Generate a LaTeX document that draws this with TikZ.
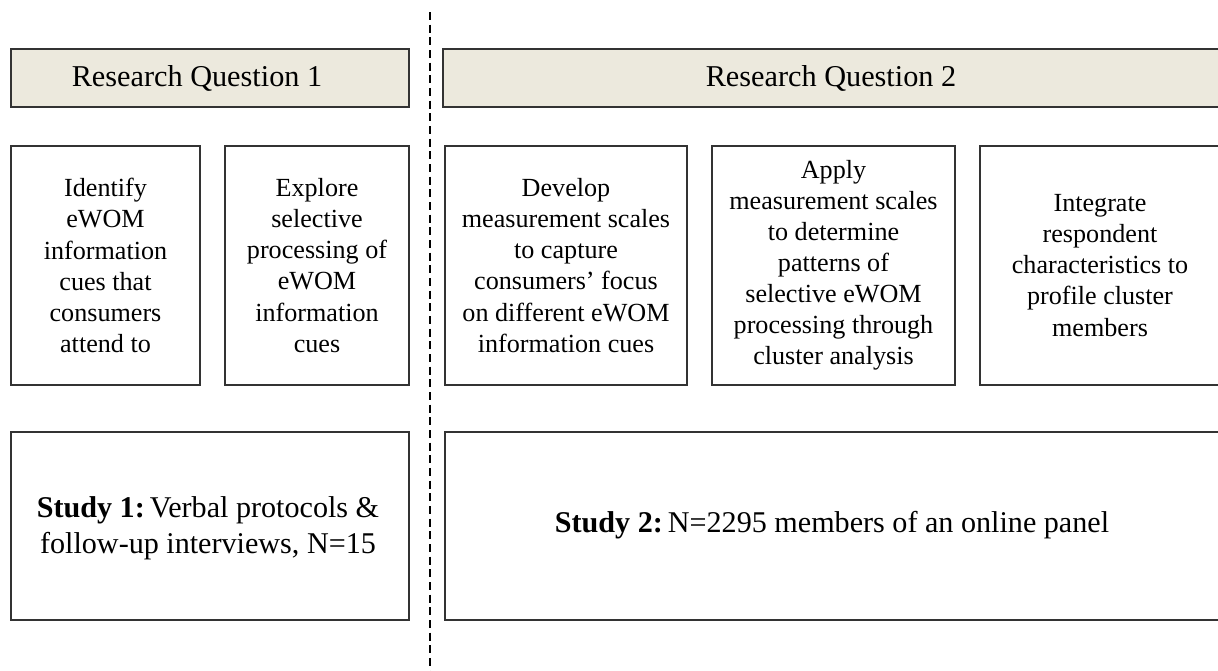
\documentclass[tikz,border=0pt]{standalone}
\usepackage{fontspec}
\setmainfont{Liberation Serif}
\definecolor{hdrfill}{HTML}{ECE9DD}
\definecolor{edge}{HTML}{333333}
\tikzset{
  hdr/.style={draw=edge, line width=1.1pt, fill=hdrfill},
  plainbox/.style={draw=edge, line width=1.1pt, fill=white},
  hdrtxt/.style={align=center, inner sep=0pt, font=\fontsize{22.7}{26}\selectfont},
  txt/.style={align=center, inner sep=0pt, font=\fontsize{19.6}{23.3}\selectfont},
  bigtxt/.style={align=center, inner sep=0pt, font=\fontsize{22.6}{27}\selectfont},
  divider/.style={draw=black, line width=1.2pt, dash pattern=on 6pt off 3.5pt}
}
\begin{document}
\begin{tikzpicture}[x=0.75pt,y=-0.75pt]
\useasboundingbox (0,0) rectangle (1218,671);
\clip (0,0) rectangle (1218,671);
\fill[white] (0,0) rectangle (1218,671);
% headers
\draw[hdr] (11,49) rectangle (409,107);
\node[hdrtxt] (rq1) at (197,78) {Research Question 1};
\draw[hdr] (443,49) rectangle (1219.5,107);
\node[hdrtxt] (rq2) at (831,78) {Research Question 2};
% row 2
\draw[plainbox] (11,146) rectangle (200,385);
\node[txt] (b1) at (105.5,265.5) {Identify\\eWOM\\information\\cues that\\consumers\\attend to};
\draw[plainbox] (225,146) rectangle (409,385);
\node[txt] (b2) at (317,265.5) {Explore\\selective\\processing of\\eWOM\\information\\cues};
\draw[plainbox] (445,146) rectangle (687,385);
\node[txt] (b3) at (566,265.5) {Develop\\measurement scales\\to capture\\consumers’ focus\\on different eWOM\\information cues};
\draw[plainbox] (712,146) rectangle (955,385);
\node[txt] (b4) at (833.5,265.5) {Apply\\measurement scales\\to determine\\patterns of\\selective eWOM\\processing through\\cluster analysis};
\draw[plainbox] (980,146) rectangle (1220,385);
\node[txt] (b5) at (1100,265.5) {Integrate\\respondent\\characteristics to\\profile cluster\\members};
% row 3
\draw[plainbox] (11,432) rectangle (409,620);
\node[bigtxt] (s1) at (208,528) {\textbf{Study 1:}\,Verbal protocols \&\\follow-up interviews, N=15};
\draw[plainbox] (445,432) rectangle (1220,620);
\node[bigtxt] (s2) at (832,525) {\textbf{Study 2:}\,N=2295 members of an online panel};
% divider
\coordinate (dtop) at (430,12);
\coordinate (dbot) at (430,671);
\draw[divider] (dtop) -- (dbot);
\end{tikzpicture}
\end{document}
